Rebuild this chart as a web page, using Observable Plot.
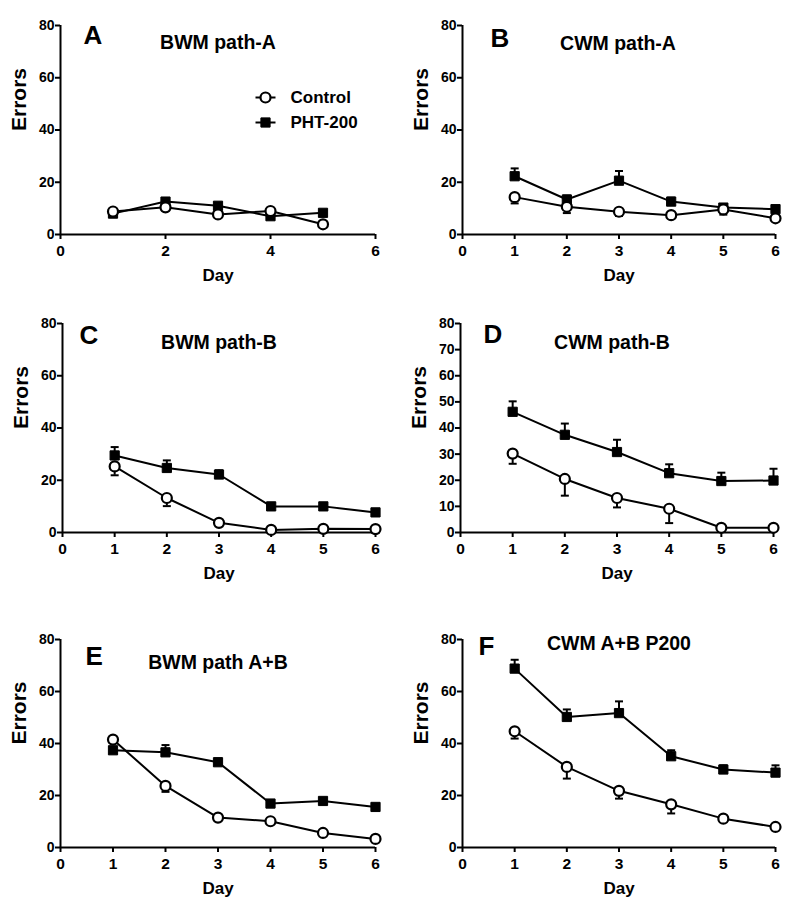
<!DOCTYPE html>
<html>
<head>
<meta charset="utf-8">
<script src="https://cdn.jsdelivr.net/npm/d3@7"></script>
<script src="https://cdn.jsdelivr.net/npm/@observablehq/plot@0.6"></script>
<style>
  body { margin: 0; background: #fff; }
  #wrap { position: relative; width: 800px; height: 911px; background: #fff; }
  .panel { position: absolute; }
</style>
</head>
<body>
<div id="wrap"></div>
<script>
// ---------- data ----------
const days5 = [1, 2, 3, 4, 5];
const days6 = [1, 2, 3, 4, 5, 6];
const seriesNames = ["Control", "PHT-200"];

// A: BWM path-A
const aControl = [8.8, 10.4, 7.7, 9.0, 3.9];
const aControlErr = [1, 1, 1, 1, 1];
const aPht = [8.0, 12.6, 11.0, 7.0, 8.3];
const aPhtErr = [1, 1, 1, 1, 1];

// B: CWM path-A
const bControl = [14.3, 10.6, 8.7, 7.4, 9.6, 6.2];
const bControlErr = [2.4, 2.4, 1.6, 1.0, 2.0, 1.0];
const bPht = [22.3, 13.4, 20.6, 12.6, 10.3, 9.7];
const bPhtErr = [3.0, 1.5, 3.7, 1.5, 1.0, 1.0];

// C: BWM path-B
const cControl = [25.3, 13.2, 3.7, 1.0, 1.4, 1.3];
const cControlErr = [3.4, 3.1, 1.0, 1.0, 1.0, 1.3];
const cPht = [29.5, 24.7, 22.2, 10.0, 10.0, 7.7];
const cPhtErr = [3.2, 2.9, 1.6, 1.0, 1.0, 1.0];

// D: CWM path-B
const dControl = [30.2, 20.5, 13.2, 9.1, 1.8, 1.8];
const dControlErr = [3.9, 6.4, 3.6, 5.5, 1.0, 1.0];
const dPht = [46.2, 37.4, 30.8, 22.7, 19.7, 19.9];
const dPhtErr = [4.0, 4.3, 4.7, 3.4, 3.2, 4.5];

// E: BWM path A+B
const eControl = [41.5, 23.7, 11.5, 10.1, 5.6, 3.3];
const eControlErr = [1.0, 2.3, 1.0, 1.0, 1.0, 1.0];
const ePht = [37.4, 36.6, 32.8, 16.9, 17.9, 15.6];
const ePhtErr = [1.0, 2.8, 1.4, 1.0, 1.0, 1.0];

// F: CWM A+B P200
const fControl = [44.7, 31.0, 21.8, 16.6, 11.1, 7.9];
const fControlErr = [2.8, 4.5, 3.0, 3.5, 1.0, 1.0];
const fPht = [68.8, 50.2, 51.7, 35.1, 30.0, 28.8];
const fPhtErr = [3.4, 2.9, 4.5, 2.3, 1.6, 2.8];

const ticksX2 = [0, 2, 4, 6];
const ticksX1 = [0, 1, 2, 3, 4, 5, 6];
const ticksY20 = [0, 20, 40, 60, 80];
const ticksY10 = [0, 10, 20, 30, 40, 50, 60, 70, 80];

const letters = ["A", "B", "C", "D", "E", "F"];
const titles = ["BWM path-A", "CWM path-A", "BWM path-B", "CWM path-B", "BWM path A+B", "CWM A+B P200"];
const xLabel = "Day";
const yLabel = "Errors";

// ---------- layout ----------
const panels = [
  {days: days5, c: aControl, ce: aControlErr, p: aPht, pe: aPhtErr, xt: ticksX2, yt: ticksY20,
   left: 0, top: 0, h: 300, mt: 25, mb: 66, ml: 60, mr: 25, legend: true, tdx: 0, tdy: 17, ldx: 23, ldy: 10},
  {days: days6, c: bControl, ce: bControlErr, p: bPht, pe: bPhtErr, xt: ticksX1, yt: ticksY20,
   left: 400, top: 0, h: 300, mt: 25, mb: 66, ml: 62, mr: 25, tdx: -1, tdy: 18, ldx: 28, ldy: 13},
  {days: days6, c: cControl, ce: cControlErr, p: cPht, pe: cPhtErr, xt: ticksX1, yt: ticksY20,
   left: 0, top: 300, h: 300, mt: 23, mb: 68, ml: 62, mr: 25, tdx: 0, tdy: 19, ldx: 17, ldy: 12},
  {days: days6, c: dControl, ce: dControlErr, p: dPht, pe: dPhtErr, xt: ticksX1, yt: ticksY10,
   left: 400, top: 300, h: 300, mt: 23, mb: 68, ml: 60, mr: 27, tdx: -5, tdy: 19, ldx: 23, ldy: 11},
  {days: days6, c: eControl, ce: eControlErr, p: ePht, pe: ePhtErr, xt: ticksX1, yt: ticksY20,
   left: 0, top: 600, h: 311, mt: 39, mb: 64, ml: 60, mr: 25, tdx: 0, tdy: 23, ldx: 25, ldy: 17},
  {days: days6, c: fControl, ce: fControlErr, p: fPht, pe: fPhtErr, xt: ticksX1, yt: ticksY20,
   left: 400, top: 600, h: 311, mt: 39, mb: 64, ml: 62, mr: 25, tdx: 0, tdy: 4, ldx: 16, ldy: 7}
];

const FONT = "Liberation Sans, Arial, Helvetica, sans-serif";

const capSymbol = {
  draw(context, size) {
    const w = Math.sqrt(size / Math.PI);
    context.moveTo(-w, 0);
    context.lineTo(w, 0);
  }
};

const wrap = document.getElementById("wrap");

panels.forEach((P, i) => {
  const ctrl = P.days.map((d, k) => ({day: d, v: P.c[k], lo: P.c[k] - P.ce[k], hi: P.c[k]}));
  const pht = P.days.map((d, k) => ({day: d, v: P.p[k], lo: P.p[k], hi: P.p[k] + P.pe[k]}));

  const marks = [
    Plot.axisX({ticks: P.xt, tickSize: 5, tickPadding: 5, strokeWidth: 2, fontSize: 15.5, fontWeight: "bold", label: null, tickFormat: d => String(d)}),
    Plot.axisY({ticks: P.yt, tickSize: 5, tickPadding: 1, strokeWidth: 2, fontSize: 14, fontWeight: "bold", label: null, tickFormat: d => String(d)}),
    Plot.ruleX([0], {stroke: "black", strokeWidth: 2}),
    Plot.ruleY([0], {stroke: "black", strokeWidth: 2}),
    // error bars
    Plot.ruleX(ctrl, {x: "day", y1: "lo", y2: "hi", stroke: "black", strokeWidth: 2}),
    Plot.dot(ctrl, {x: "day", y: "lo", symbol: capSymbol, r: 4, stroke: "black", strokeWidth: 2, fill: "none"}),
    Plot.ruleX(pht, {x: "day", y1: "lo", y2: "hi", stroke: "black", strokeWidth: 2}),
    Plot.dot(pht, {x: "day", y: "hi", symbol: capSymbol, r: 4, stroke: "black", strokeWidth: 2, fill: "none"}),
    // lines
    Plot.line(ctrl, {x: "day", y: "v", stroke: "black", strokeWidth: 2}),
    Plot.line(pht, {x: "day", y: "v", stroke: "black", strokeWidth: 2}),
    // markers
    Plot.dot(pht, {x: "day", y: "v", symbol: "square", r: 5.2, fill: "black", stroke: "black", strokeWidth: 1}),
    Plot.dot(ctrl, {x: "day", y: "v", symbol: "circle", r: 5, fill: "white", stroke: "black", strokeWidth: 2.2}),
    // labels
    Plot.text([yLabel], {text: d => d, frameAnchor: "left", rotate: -90, dx: -41, dy: 1, fontSize: 21, fontWeight: "bold", fill: "black"}),
    Plot.text([xLabel], {text: d => d, frameAnchor: "bottom", dy: 41, lineAnchor: "middle", fontSize: 17, fontWeight: "bold", fill: "black"}),
    Plot.text([letters[i]], {text: d => d, frameAnchor: "top-left", dx: P.ldx, dy: P.ldy, lineAnchor: "middle", fontSize: 26, fontWeight: "bold", fill: "black"}),
    Plot.text([titles[i]], {text: d => d, frameAnchor: "top", dx: P.tdx, dy: P.tdy, lineAnchor: "middle", fontSize: 19.5, fontWeight: "bold", fill: "black"})
  ];

  if (P.legend) {
    seriesNames.forEach((name, k) => {
      const dy = 72 + k * 25;
      marks.push(Plot.dot([name], {frameAnchor: "top-left", dx: 205, dy, symbol: capSymbol, r: 10, stroke: "black", strokeWidth: 2, fill: "none"}));
      if (k === 0) {
        marks.push(Plot.dot([name], {frameAnchor: "top-left", dx: 205, dy, symbol: "circle", r: 5, fill: "white", stroke: "black", strokeWidth: 2.2}));
      } else {
        marks.push(Plot.dot([name], {frameAnchor: "top-left", dx: 205, dy, symbol: "square", r: 5.2, fill: "black", stroke: "black", strokeWidth: 1}));
      }
      marks.push(Plot.text([name], {text: d => d, frameAnchor: "top-left", dx: 230, dy, textAnchor: "start", lineAnchor: "middle", fontSize: 17, fontWeight: "bold", fill: "black"}));
    });
  }

  const chart = Plot.plot({
    width: 400,
    height: P.h,
    marginLeft: P.ml,
    marginRight: P.mr,
    marginTop: P.mt,
    marginBottom: P.mb,
    style: {fontFamily: FONT, fontSize: "15px", fontWeight: "bold", color: "black", background: "white", overflow: "visible"},
    x: {domain: [0, 6], axis: null},
    y: {domain: [0, 80], axis: null},
    marks
  });
  const div = document.createElement("div");
  div.className = "panel";
  div.style.left = P.left + "px";
  div.style.top = P.top + "px";
  div.appendChild(chart);
  wrap.appendChild(div);
});
</script>
</body>
</html>
